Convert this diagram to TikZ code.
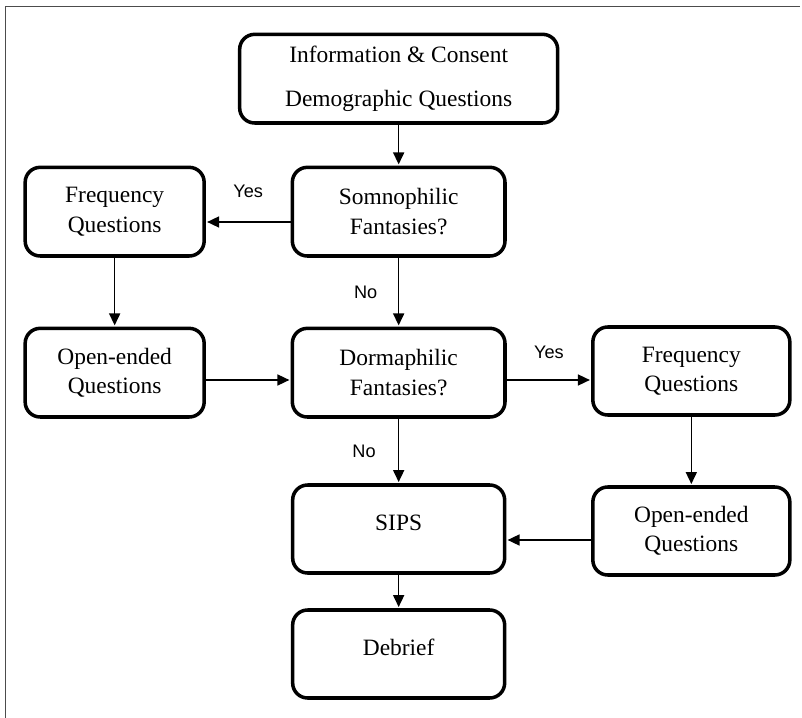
\documentclass[tikz,border=0pt]{standalone}
\usepackage{fontspec}
\setmainfont{Liberation Serif}
\newfontfamily\answerfont{Liberation Sans}
\usetikzlibrary{arrows.meta, calc, positioning}

\tikzset{
	stage/.style={draw, line width=3pt, rounded corners=4.5mm, align=center, inner sep=0pt, minimum height=2.66cm, font=\fontsize{20}{25}\selectfont},
	raised/.style={text depth=4mm},
	link/.style={-{Triangle[length=3.6mm, width=3.3mm]}, line width=1.4pt, shorten >=1pt},
	answer/.style={font=\fontsize{15.5}{17}\selectfont\answerfont}
}

\begin{document}
\begin{tikzpicture}
		\useasboundingbox (0,0) rectangle (24.06,-21.54);
		\draw[gray!60!black, line width=.7pt] (0.15,-21.54) -- (0.15,-0.18) -- (24.0,-0.18);

		% first block
		\node[stage, minimum width=9.54cm] (info) at (11.96,-2.36) {Information \& Consent\\[4.4mm] Demographic Questions};
		\node[stage, minimum width=6.38cm] (somno) at (11.96,-6.35) {Somnophilic\\ Fantasies?};
		\node[stage, minimum width=5.37cm] (freqL) at (3.44,-6.35) {Frequency\\ Questions};
		\node[stage, minimum width=5.37cm] (openL) at (3.44,-11.18) {Open-ended\\ Questions};

		% second block
		\node[stage, minimum width=6.38cm] (dorma) at (11.96,-11.18) {Dormaphilic\\ Fantasies?};
		\node[stage, minimum width=5.91cm, minimum height=2.64cm] (freqR) at (20.74,-11.13) {Frequency\\ Questions};
		\node[stage, minimum width=5.91cm, minimum height=2.64cm] (openR) at (20.74,-15.93) {Open-ended\\ Questions};
		\node[stage, raised, minimum width=6.36cm, minimum height=2.64cm] (sips) at (11.96,-15.87) {SIPS};
		\node[stage, raised, minimum width=6.36cm, minimum height=2.64cm] (debrief) at (11.96,-19.62) {Debrief};

		\draw[link] (info) -- (somno);
		\draw[link] ([yshift=-3.1mm]somno.west) -- ([yshift=-3.1mm]freqL.east) node[answer, midway, above=6mm] {Yes};
		\draw[link] (freqL) -- (openL);
		\draw[link] (somno) -- (dorma) node[answer, midway, left=5mm] {No};
		\draw[link] ([yshift=-2.2mm]openL.east) -- ([yshift=-2.2mm]dorma.west);
		\draw[link] ([yshift=-2.2mm]dorma.east) -- ([yshift=-2.2mm]dorma.east -| freqR.west) node[answer, midway, above=5mm] {Yes};
		\draw[link] (freqR) -- (openR);
		\draw[link] (dorma) -- (sips) node[answer, midway, left=5.5mm] {No};
		\draw[link] ([yshift=-2.7mm]openR.west) -- ([yshift=-2.7mm]openR.west -| sips.east);
		\draw[link] (sips) -- (debrief);
	\end{tikzpicture}
\end{document}
